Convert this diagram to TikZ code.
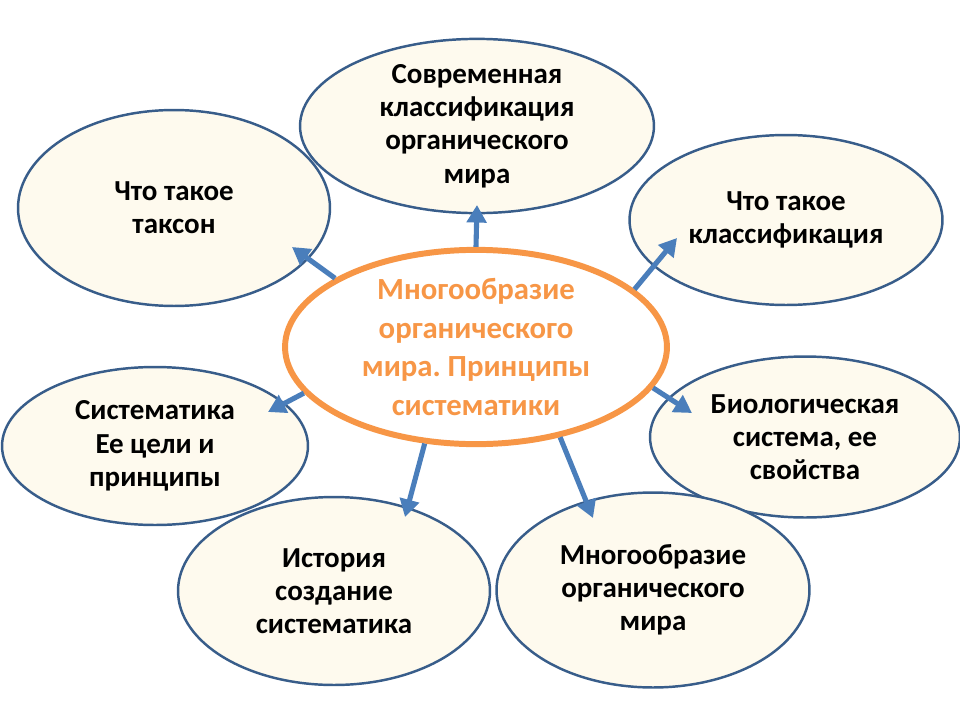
\documentclass[tikz,border=0pt]{standalone}
\usepackage{fontspec}
\setmainfont{Carlito}
\usetikzlibrary{shapes.geometric, arrows.meta, calc}
\frenchspacing

\definecolor{rimblue}{HTML}{385D8A}
\definecolor{paleyellow}{HTML}{FEFAEE}
\definecolor{arrowblue}{HTML}{4A7EBB}
\definecolor{huborange}{HTML}{F79646}

\begin{document}
\begin{tikzpicture}[x=0.02cm, y=-0.02cm,
  topic/.style={ellipse, draw=rimblue, line width=1.4pt, fill=paleyellow, inner sep=0pt, align=center,
    font=\fontsize{16.5}{18.9}\selectfont\bfseries},
  hub/.style={ellipse, draw=huborange, line width=3.4pt, fill=white, inner sep=0pt, align=center,
    text=huborange, font=\fontsize{17.5}{22}\selectfont\bfseries},
  link/.style={-{Triangle[length=10pt, width=11pt]}, draw=arrowblue, line width=2.9pt}]
  \useasboundingbox (0,0) rectangle (960,720);

  \node (modern) [topic, minimum width=7.08cm, minimum height=3.12cm] at (477,126) {Современная\\классификация\\органического\\мира};
  \node (taxon) [topic, minimum width=6.24cm, minimum height=3.92cm] at (174,208) {Что такое\\таксон};
  \node (classif) [topic, minimum width=6.26cm, minimum height=3.4cm] at (786,220) {Что такое\\классификация};
  \node (syst) [topic, minimum width=6.12cm, minimum height=3.16cm] at (155,446) {Систематика\\Ее цели и\\принципы};
  \node (biosys) [topic, minimum width=6.2cm, minimum height=3.22cm] at (805,437) {Биологическая\\система, ее\\свойства};
  \node (history) [topic, minimum width=6.24cm, minimum height=3.76cm] at (334,591) {История\\создание\\систематика};
  \node (variety) [topic, minimum width=6.26cm, minimum height=3.9cm] at (653,590) {Многообразие\\органического\\мира};

  \node (center) [hub, minimum width=7.64cm, minimum height=3.68cm] at (476,347) {Многообразие\\органического\\мира. Принципы\\систематики};

  \draw[link] (center.north) -- ($(modern)+(0,79)$);
  \draw[link] (center.154) -- ($(taxon)+(118,39)$);
  \draw[link] (center.20) -- ($(classif)+(-109,18)$);
  \draw[link] (center.195) -- ($(syst)+(113,-34)$);
  \draw[link] (center.-13) -- ($(biosys)+(-113,-24)$);
  \draw[link] (center.-118) -- ($(history)+(71,-74)$);
  \draw[link] (center.-47) -- ($(variety)+(-60,-72)$);
\end{tikzpicture}
\end{document}
